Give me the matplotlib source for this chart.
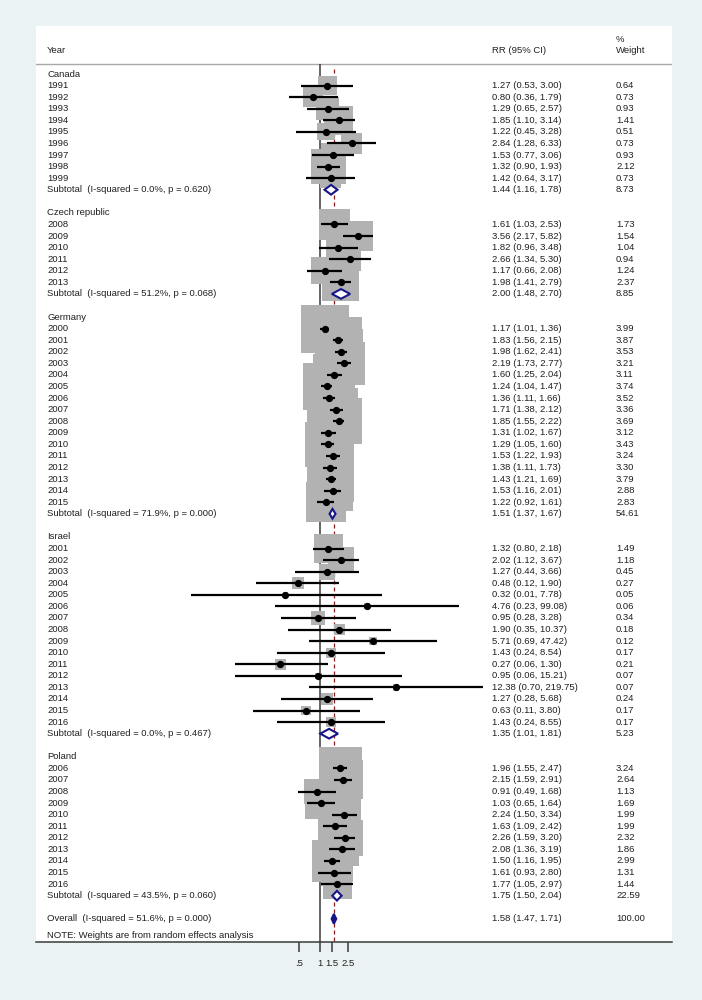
#!/usr/bin/env python3
"""Forest plot: RR (95% CI) by country and year, random effects weights."""

import matplotlib.pyplot as plt
import numpy as np
from matplotlib.patches import Polygon
from matplotlib.ticker import NullLocator

plt.rcParams['font.family'] = ['Liberation Sans', 'DejaVu Sans']

BG = '#eaf2f3'
TXT = '#202020'
BOX = '#b2b2b2'
NAVY = '#16168a'
MAROON = '#8a1c1c'
FS = 6.8

# ── Data ─────────────────────────────────────────────────────────────────────
GROUPS = ['Canada', 'Czech republic', 'Germany', 'Israel', 'Poland']

CANADA_YEARS = [1991, 1992, 1993, 1994, 1995, 1996, 1997, 1998, 1999]
CANADA_RR = [1.27, 0.80, 1.29, 1.85, 1.22, 2.84, 1.53, 1.32, 1.42]
CANADA_LO = [0.53, 0.36, 0.65, 1.10, 0.45, 1.28, 0.77, 0.90, 0.64]
CANADA_HI = [3.00, 1.79, 2.57, 3.14, 3.28, 6.33, 3.06, 1.93, 3.17]
CANADA_WT = [0.64, 0.73, 0.93, 1.41, 0.51, 0.73, 0.93, 2.12, 0.73]

CZECH_YEARS = [2008, 2009, 2010, 2011, 2012, 2013]
CZECH_RR = [1.61, 3.56, 1.82, 2.66, 1.17, 1.98]
CZECH_LO = [1.03, 2.17, 0.96, 1.34, 0.66, 1.41]
CZECH_HI = [2.53, 5.82, 3.48, 5.30, 2.08, 2.79]
CZECH_WT = [1.73, 1.54, 1.04, 0.94, 1.24, 2.37]

GERMANY_YEARS = list(range(2000, 2016))
GERMANY_RR = [1.17, 1.83, 1.98, 2.19, 1.60, 1.24, 1.36, 1.71,
              1.85, 1.31, 1.29, 1.53, 1.38, 1.43, 1.53, 1.22]
GERMANY_LO = [1.01, 1.56, 1.62, 1.73, 1.25, 1.04, 1.11, 1.38,
              1.55, 1.02, 1.05, 1.22, 1.11, 1.21, 1.16, 0.92]
GERMANY_HI = [1.36, 2.15, 2.41, 2.77, 2.04, 1.47, 1.66, 2.12,
              2.22, 1.67, 1.60, 1.93, 1.73, 1.69, 2.01, 1.61]
GERMANY_WT = [3.99, 3.87, 3.53, 3.21, 3.11, 3.74, 3.52, 3.36,
              3.69, 3.12, 3.43, 3.24, 3.30, 3.79, 2.88, 2.83]

ISRAEL_YEARS = list(range(2001, 2017))
ISRAEL_RR = [1.32, 2.02, 1.27, 0.48, 0.32, 4.76, 0.95, 1.90,
             5.71, 1.43, 0.27, 0.95, 12.38, 1.27, 0.63, 1.43]
ISRAEL_LO = [0.80, 1.12, 0.44, 0.12, 0.014, 0.23, 0.28, 0.35,
             0.69, 0.24, 0.06, 0.06, 0.70, 0.28, 0.11, 0.24]
ISRAEL_HI = [2.18, 3.67, 3.66, 1.90, 7.78, 99.08, 3.28, 10.37,
             47.42, 8.54, 1.30, 15.21, 219.75, 5.68, 3.80, 8.55]
ISRAEL_WT = [1.49, 1.18, 0.45, 0.27, 0.05, 0.06, 0.34, 0.18,
             0.12, 0.17, 0.21, 0.07, 0.07, 0.24, 0.17, 0.17]

POLAND_YEARS = list(range(2006, 2017))
POLAND_RR = [1.96, 2.15, 0.91, 1.03, 2.24, 1.63, 2.26, 2.08, 1.50, 1.61, 1.77]
POLAND_LO = [1.55, 1.59, 0.49, 0.65, 1.50, 1.09, 1.59, 1.36, 1.16, 0.93, 1.05]
POLAND_HI = [2.47, 2.91, 1.68, 1.64, 3.34, 2.42, 3.20, 3.19, 1.95, 2.80, 2.97]
POLAND_WT = [3.24, 2.64, 1.13, 1.69, 1.99, 1.99, 2.32, 1.86, 2.99, 1.31, 1.44]

SUB_I2 = [0.0, 51.2, 71.9, 0.0, 43.5]
SUB_P = [0.620, 0.068, 0.000, 0.467, 0.060]
SUB_RR = [1.44, 2.00, 1.51, 1.35, 1.75]
SUB_LO = [1.16, 1.48, 1.37, 1.01, 1.50]
SUB_HI = [1.78, 2.70, 1.67, 1.81, 2.04]
SUB_WT = [8.73, 8.85, 54.61, 5.23, 22.59]

OVERALL_I2 = 51.6
OVERALL_P = 0.000
OVERALL_RR = 1.58
OVERALL_LO = 1.47
OVERALL_HI = 1.71
OVERALL_WT = 100.00

TICKS = [0.5, 1, 1.5, 2.5]
TICK_LABELS = ['.5', '1', '1.5', '2.5']

STUDIES = [
    (CANADA_YEARS, CANADA_RR, CANADA_LO, CANADA_HI, CANADA_WT),
    (CZECH_YEARS, CZECH_RR, CZECH_LO, CZECH_HI, CZECH_WT),
    (GERMANY_YEARS, GERMANY_RR, GERMANY_LO, GERMANY_HI, GERMANY_WT),
    (ISRAEL_YEARS, ISRAEL_RR, ISRAEL_LO, ISRAEL_HI, ISRAEL_WT),
    (POLAND_YEARS, POLAND_RR, POLAND_LO, POLAND_HI, POLAND_WT),
]


def ci_text(rr, lo, hi):
    return f"{rr:.2f} ({lo:.2f}, {hi:.2f})"


def diamond(ax, r, est, lo, hi, h=0.42, fill='white'):
    poly = Polygon([(lo, r), (est, r - h), (hi, r), (est, r + h)],
                   closed=True, facecolor=fill, edgecolor=NAVY,
                   linewidth=1.5, zorder=6)
    ax.add_patch(poly)


def main():
    fig = plt.figure(figsize=(7.02, 10), dpi=100, facecolor=BG)
    ax = fig.add_axes([36 / 702, 58 / 1000, 636 / 702, 916 / 1000])
    ax.set_facecolor('white')

    px_per_ln = 30.3
    ax.set_xscale('log')
    ax.set_xlim(np.exp((36 - 320) / px_per_ln), np.exp((672 - 320) / px_per_ln))
    ax.set_ylim(75.0, -4.15)

    tr = ax.get_yaxis_transform()   # x: axes fraction, y: row
    X_LBL, X_CI, X_WT = 0.0173, 0.717, 0.912

    def txt(x, y, s):
        ax.text(x, y, s, transform=tr, va='center', fontsize=FS, color=TXT)

    # header
    txt(X_LBL, -1.99, "Year")
    txt(X_CI, -1.99, "RR (95% CI)")
    txt(X_WT, -3.02, "%")
    txt(X_WT, -1.99, "Weight")
    ax.axhline(-0.864, color='#a8a8a8', linewidth=1.0, zorder=1)

    # reference lines
    ax.vlines(1, -0.864, 75, color='#3a3a3a', linewidth=1.1, zorder=1)
    ax.vlines(OVERALL_RR, -0.45, 75, color=MAROON, linewidth=0.9,
              linestyles=(0, (3.2, 2.4)), zorder=1)

    r = 0
    for g, (years, rr, lo, hi, wt) in enumerate(STUDIES):
        txt(X_LBL, r, GROUPS[g])
        r += 1
        rows = np.arange(r, r + len(years))
        side_pt = 24 * np.sqrt(np.array(wt)) * 0.72
        ax.scatter(rr, rows, s=side_pt ** 2, marker='s', color=BOX,
                   linewidths=0, zorder=2)
        ax.hlines(rows, lo, hi, color='black', linewidth=1.6, zorder=3)
        ax.plot(rr, rows, 'o', color='black', markersize=4.2, zorder=4)
        for i, yr in enumerate(years):
            txt(X_LBL, rows[i], str(yr))
            txt(X_CI, rows[i], ci_text(rr[i], lo[i], hi[i]))
            txt(X_WT, rows[i], f"{wt[i]:.2f}")
        r += len(years)
        # subtotal
        txt(X_LBL, r, f"Subtotal  (I-squared = {SUB_I2[g]:.1f}%, p = {SUB_P[g]:.3f})")
        txt(X_CI, r, ci_text(SUB_RR[g], SUB_LO[g], SUB_HI[g]))
        txt(X_WT, r, f"{SUB_WT[g]:.2f}")
        diamond(ax, r, SUB_RR[g], SUB_LO[g], SUB_HI[g])
        r += 2

    # overall
    txt(X_LBL, r, f"Overall  (I-squared = {OVERALL_I2:.1f}%, p = {OVERALL_P:.3f})")
    txt(X_CI, r, ci_text(OVERALL_RR, OVERALL_LO, OVERALL_HI))
    txt(X_WT, r, f"{OVERALL_WT:.2f}")
    diamond(ax, r, OVERALL_RR, OVERALL_LO, OVERALL_HI, fill=NAVY)
    txt(X_LBL, r + 1.42, "NOTE: Weights are from random effects analysis")

    # axis
    for side in ('top', 'left', 'right'):
        ax.spines[side].set_visible(False)
    ax.spines['bottom'].set_color('#3a3a3a')
    ax.spines['bottom'].set_linewidth(1.1)
    ax.set_yticks([])
    ax.set_xticks(TICKS)
    ax.set_xticklabels(TICK_LABELS)
    ax.xaxis.set_minor_locator(NullLocator())
    ax.tick_params(axis='x', length=7, width=1.1, color='#3a3a3a',
                   labelsize=FS, labelcolor=TXT, pad=5)

    fig.savefig('out.png', dpi=100, facecolor=BG)


if __name__ == "__main__":
    main()
